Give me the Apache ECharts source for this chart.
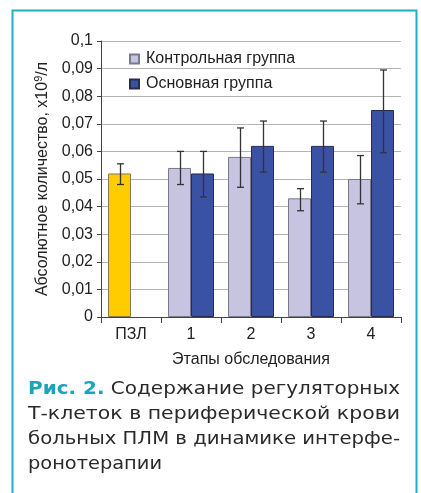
<!DOCTYPE html>
<html>
<head>
<meta charset="utf-8">
<script src="https://cdn.jsdelivr.net/npm/echarts@6/dist/echarts.min.js"></script>
<style>
html,body{margin:0;padding:0;background:#fff;}
#c{width:421px;height:493px;}
</style>
</head>
<body>
<div id="c"></div>
<script>
// ---- data ----
var categories = ['ПЗЛ', '1', '2', '3', '4'];
var pzlValues  = [0.052, null, null, null, null];
var pzlUpper   = [0.0555, null, null, null, null];
var pzlLower   = [0.048, null, null, null, null];
var controlValues = [null, 0.054, 0.058, 0.043, 0.050];
var controlUpper  = [null, 0.060, 0.0685, 0.0465, 0.0585];
var controlLower  = [null, 0.048, 0.047, 0.0385, 0.041];
var mainValues = [null, 0.052, 0.062, 0.062, 0.075];
var mainUpper  = [null, 0.060, 0.071, 0.071, 0.0895];
var mainLower  = [null, 0.0435, 0.0525, 0.0525, 0.0595];
var yTicks = [0, 0.01, 0.02, 0.03, 0.04, 0.05, 0.06, 0.07, 0.08, 0.09, 0.1];
var seriesNames = ['Контрольная группа', 'Основная группа'];
var captionHead = 'Рис. 2.';
var captionLines = [
  ' Содержание регуляторных',
  'Т-клеток в периферической крови',
  'больных ПЛМ в динамике интерфе-',
  'ронотерапии'
];

var FONT = "'Liberation Sans', Arial, sans-serif";
var CAP_FONT = "17px 'DejaVu Sans', sans-serif";
var BAR_W = 23;

function errData(upper, lower) {
  var out = [];
  for (var i = 0; i < categories.length; i++) {
    if (upper[i] != null) out.push([i, lower[i], upper[i]]);
  }
  return out;
}

function makeErr(offsetSign) {
  return function (params, api) {
    var idx = api.value(0);
    var lo = api.coord([idx, api.value(1)]);
    var hi = api.coord([idx, api.value(2)]);
    var x = Math.round(lo[0] + offsetSign * BAR_W / 2) + 0.5;
    var cap = 3.5;
    var st = { stroke: '#333', lineWidth: 1.3 };
    return {
      type: 'group',
      children: [
        { type: 'line', shape: { x1: x, y1: hi[1], x2: x, y2: lo[1] }, style: st },
        { type: 'line', shape: { x1: x - cap, y1: hi[1], x2: x + cap, y2: hi[1] }, style: st },
        { type: 'line', shape: { x1: x - cap, y1: lo[1], x2: x + cap, y2: lo[1] }, style: st }
      ]
    };
  };
}

var chart = echarts.init(document.getElementById('c'), null, { renderer: 'canvas' });

// caption: each line stretched to the justified width of the reference
var capLeft = 28, capRight = 400;
var capTargets = [capRight, capRight, capRight, 162];
var capTops = [381, 406, 431, 456];

function measure(text, font) {
  return echarts.format.getTextRect ? echarts.format.getTextRect(text, font).width : text.length * 9;
}

function captionGraphics() {
  var items = [];
  var headFont = "bold 17px 'DejaVu Sans', sans-serif";
  for (var i = 0; i < captionLines.length; i++) {
    var w;
    var style;
    if (i === 0) {
      w = measure(captionHead, headFont) + measure(captionLines[0], CAP_FONT);
      style = {
        text: '{a|' + captionHead + '}' + captionLines[0],
        font: CAP_FONT, fill: '#2a2a2a',
        rich: { a: { font: headFont, fill: '#1AA5BE' } }
      };
    } else {
      w = measure(captionLines[i], CAP_FONT);
      style = { text: captionLines[i], font: CAP_FONT, fill: '#2a2a2a' };
    }
    var sx = (capTargets[i] - capLeft) / w;
    items.push({ type: 'text', x: capLeft, y: capTops[i], scaleX: sx, style: style, silent: true });
  }
  return items;
}

var option = {
  animation: false,
  backgroundColor: '#fff',
  grid: { left: 101, right: 20, top: 41, bottom: 176 },
  legend: {
    data: seriesNames,
    orient: 'vertical',
    left: 124,
    top: 46,
    itemWidth: 9,
    itemHeight: 9,
    itemGap: 9,
    icon: 'rect',
    textStyle: { fontFamily: FONT, fontSize: 16, color: '#222', padding: [0, 0, 0, 2] }
  },
  xAxis: {
    type: 'category',
    data: categories,
    name: 'Этапы обследования',
    nameLocation: 'middle',
    nameGap: 35,
    nameTextStyle: { fontFamily: FONT, fontSize: 16, color: '#222' },
    axisLine: { lineStyle: { color: '#444', width: 1 } },
    axisTick: { show: true, length: 6, lineStyle: { color: '#444' } },
    axisLabel: { fontFamily: FONT, fontSize: 16, color: '#222', margin: 10 }
  },
  yAxis: {
    type: 'value',
    min: 0,
    max: 0.1,
    interval: 0.01,
    name: 'Абсолютное количество, x10{sup|9}/л',
    nameLocation: 'middle',
    nameGap: 48,
    nameTextStyle: {
      fontFamily: FONT, fontSize: 16, color: '#222',
      rich: { sup: { fontFamily: FONT, fontSize: 11, color: '#222', verticalAlign: 'bottom', padding: [0, 0, 8, 0] } }
    },
    axisLine: { show: true, lineStyle: { color: '#444', width: 1 } },
    axisTick: { show: true, length: 4, lineStyle: { color: '#444' } },
    splitLine: { lineStyle: { color: '#b5b5b5', width: 1.2 } },
    axisLabel: {
      fontFamily: FONT, fontSize: 16, color: '#222', margin: 8,
      formatter: function (v) {
        var t = yTicks.reduce(function (a, b) { return Math.abs(b - v) < Math.abs(a - v) ? b : a; });
        return String(t).replace('.', ',');
      }
    }
  },
  series: [
    {
      name: 'ПЗЛ', type: 'bar', stack: 'left', data: pzlValues, barWidth: BAR_W, barGap: '0%',
      itemStyle: { color: '#FFCC00', borderColor: '#857a50', borderWidth: 1 }
    },
    {
      name: seriesNames[0], type: 'bar', stack: 'left', data: controlValues, barWidth: BAR_W, barGap: '0%',
      itemStyle: { color: '#C6C4E0', borderColor: '#7a7a8a', borderWidth: 1 }
    },
    {
      name: seriesNames[1], type: 'bar', stack: 'right', data: mainValues, barWidth: BAR_W, barGap: '0%',
      itemStyle: { color: '#3A52A3', borderColor: '#2a2a50', borderWidth: 1 }
    },
    { type: 'custom', renderItem: makeErr(-1), data: errData(pzlUpper, pzlLower), z: 10, silent: true },
    { type: 'custom', renderItem: makeErr(-1), data: errData(controlUpper, controlLower), z: 10, silent: true },
    { type: 'custom', renderItem: makeErr(1), data: errData(mainUpper, mainLower), z: 10, silent: true }
  ],
  graphic: [
    {
      type: 'rect', silent: true,
      shape: { x: 12.5, y: 10.5, width: 404, height: 520 },
      style: { fill: 'none', stroke: '#1AB0C6', lineWidth: 2 }
    }
  ].concat(captionGraphics())
};
chart.setOption(option);
</script>
</body>
</html>
